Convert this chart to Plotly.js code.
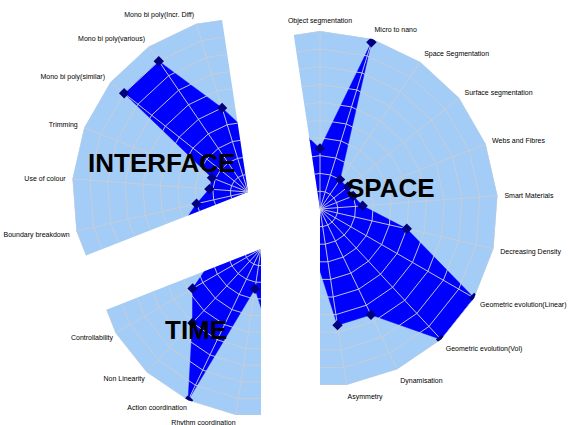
<!DOCTYPE html>
<html><head><meta charset="utf-8">
<script src="https://cdn.plot.ly/plotly-3.0.1.min.js"></script>
<style>html,body{margin:0;padding:0;background:#fff;}</style>
</head><body>
<div id="chart" style="width:569px;height:425px;"></div>
<script>
// ---- data ----
const categories = [
  "Object segmentation", "Micro to nano", "Space Segmentation", "Surface segmentation",
  "Webs and Fibres", "Smart Materials", "Decreasing Density", "Geometric evolution(Linear)",
  "Geometric evolution(Vol)", "Dynamisation", "Asymmetry",
  "Rhythm coordination", "Action coordination", "Non Linearity", "Controllability",
  "Boundary breakdown", "Use of colour", "Trimming", "Mono bi poly(similar)",
  "Mono bi poly(various)", "Mono bi poly(Incr. Diff)"
];
const values = [3.4, 9.8, 2.0, 2.0, 2.0, 2.4, 5.0, 10, 10, 6.6, 6.6,
                2.4, 10, 6.0, 4.7,
                3.0, 2.2, 2.2, 9.0, 9.0, 5.0];
const ringLevels = [1, 2, 3, 4, 5, 6, 7, 8, 9, 10];
const pieceNames = ["SPACE", "INTERFACE", "TIME"];
const pieceFirstIndex = [0, 15, 11];
const pieceLastIndex = [10, 20, 14];

// ---- layout geometry (pixels) ----
const W = 569, H = 425;
const pieceGeom = [
  {cx: 320, cy: 209, R: 178, pad: 5, lx: 391, ly: 187.5},
  {cx: 248, cy: 192, R: 176, pad: 5, lx: 161, ly: 162.5},
  {cx: 261, cy: 249, R: 168, pad: 1, lx: 195.5, ly: 330}
];
const LIGHT = "#a3cdf7", DARK = "#0000ff", MARK = "#000080", GRID = "rgba(200,204,214,0.95)";

function mod(a, b) { return ((a % b) + b) % b; }
function rad(d) { return d * Math.PI / 180; }
function sectorBBox(sector) {
  const arc = sector[1] - sector[0];
  const a0 = mod(sector[0], 360), a1 = a0 + arc;
  const ax0 = Math.cos(rad(a0)), ay0 = Math.sin(rad(a0));
  const ax1 = Math.cos(rad(a1)), ay1 = Math.sin(rad(a1));
  let x0, y0, x1, y1;
  if ((a0 <= 90 && a1 >= 90) || (a0 > 90 && a1 >= 450)) y1 = 1;
  else if (ay0 <= 0 && ay1 <= 0) y1 = 0; else y1 = Math.max(ay0, ay1);
  if ((a0 <= 180 && a1 >= 180) || (a0 > 180 && a1 >= 540)) x0 = -1;
  else if (ax0 >= 0 && ax1 >= 0) x0 = 0; else x0 = Math.min(ax0, ax1);
  if ((a0 <= 270 && a1 >= 270) || (a0 > 270 && a1 >= 630)) y0 = -1;
  else if (ay0 >= 0 && ay1 >= 0) y0 = 0; else y0 = Math.min(ay0, ay1);
  if (a1 >= 360) x1 = 1;
  else if (ax0 <= 0 && ax1 <= 0) x1 = 0; else x1 = Math.max(ax0, ax1);
  return [x0, y0, x1, y1];
}

const n = categories.length;
const step = 360 / n, half = step / 2;
const closedTheta = categories.concat([categories[0]]);
const closedR = values.concat([values[0]]);
const rMax = ringLevels[ringLevels.length - 1];

// ring and spoke paths built from the category axis
const ringR = [], ringT = [];
ringLevels.forEach(k => {
  closedTheta.forEach(c => { ringR.push(k); ringT.push(c); });
  ringR.push(null); ringT.push(categories[0]);
});
const spokeR = [], spokeT = [];
categories.forEach(c => { spokeR.push(0, rMax, null); spokeT.push(c, c, c); });

const traces = [];
const layout = {
  width: W, height: H, margin: {l: 0, r: 0, t: 0, b: 0},
  paper_bgcolor: "#ffffff", showlegend: false, annotations: [],
  font: {family: "Liberation Sans, Arial, sans-serif"}
};

pieceNames.forEach((name, p) => {
  const id = p === 0 ? "polar" : "polar" + (p + 1);
  const g = pieceGeom[p];
  const thStart = pieceFirstIndex[p] * step - half;
  const thEnd = pieceLastIndex[p] * step + half;
  const sector = [90 - thEnd, 90 - thStart];
  const bb = sectorBBox(sector);
  const dom = {
    x: [(g.cx + g.R * bb[0]) / W, (g.cx + g.R * bb[2]) / W],
    y: [1 - (g.cy - g.R * bb[1]) / H, 1 - (g.cy - g.R * bb[3]) / H]
  };
  layout[id] = {
    domain: dom, sector: sector, gridshape: "linear", bgcolor: LIGHT,
    radialaxis: {range: [0, rMax], showgrid: false, showline: false, showticklabels: false, ticks: ""},
    angularaxis: {
      type: "category", categoryarray: categories, rotation: 90, direction: "clockwise",
      showgrid: false, showline: false, ticks: "outside", ticklen: g.pad, tickcolor: "rgba(0,0,0,0)",
      tickfont: {size: 7, color: "#000000", family: "Liberation Sans, Arial, sans-serif"}
    }
  };
  traces.push({type: "scatterpolar", subplot: id, r: closedR, theta: closedTheta, mode: "lines",
    fill: "toself", fillcolor: DARK, line: {color: DARK, width: 0.5}, cliponaxis: true, hoverinfo: "skip"});
  traces.push({type: "scatterpolar", subplot: id, r: ringR, theta: ringT, mode: "lines",
    line: {color: GRID, width: 1}, cliponaxis: true, hoverinfo: "skip"});
  traces.push({type: "scatterpolar", subplot: id, r: spokeR, theta: spokeT, mode: "lines",
    line: {color: GRID, width: 1}, cliponaxis: true, hoverinfo: "skip"});
  traces.push({type: "scatterpolar", subplot: id, r: values, theta: categories, mode: "markers",
    marker: {symbol: "diamond", size: 8, color: MARK}, cliponaxis: true, hoverinfo: "skip"});
  layout.annotations.push({
    text: "<b>" + name + "</b>", xref: "paper", yref: "paper",
    x: g.lx / W, y: 1 - g.ly / H, xanchor: "center", yanchor: "middle", showarrow: false,
    font: {size: 26, color: "#000", family: "Liberation Sans, Arial, sans-serif"}
  });
});

Plotly.newPlot("chart", traces, layout, {displayModeBar: false, staticPlot: true});
</script>
</body></html>
